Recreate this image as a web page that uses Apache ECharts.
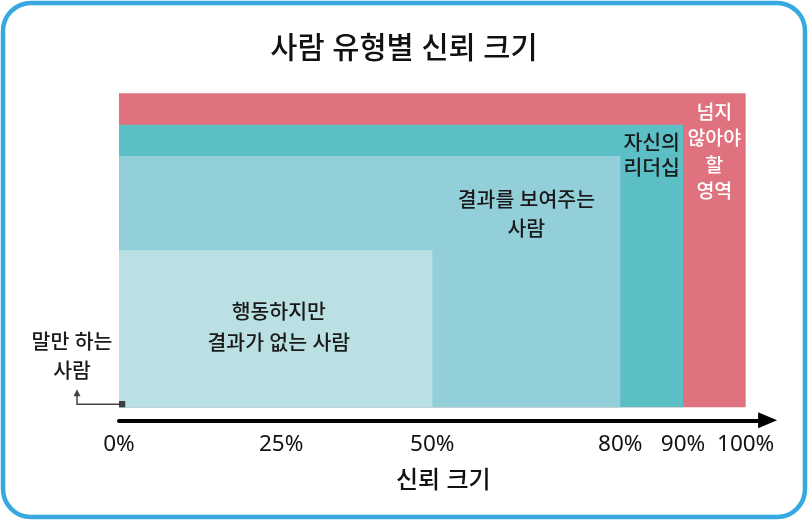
<!DOCTYPE html>
<html>
<head>
<meta charset="utf-8">
<script src="https://cdn.jsdelivr.net/npm/echarts@6/dist/echarts.min.js"></script>
<style>
  html, body { margin: 0; padding: 0; background: #fff; }
  #chart { width: 808px; height: 520px; }
</style>
</head>
<body>
<div id="chart"></div>
<script>
var chart = echarts.init(document.getElementById('chart'));

// bands, from the smallest to the largest
const bandNames = ['말만 하는 사람', '행동하지만 결과가 없는 사람', '결과를 보여주는 사람', '자신의 리더십', '넘지 않아야 할 영역'];
const bandLabels = ['말만 하는\n사람', '행동하지만\n결과가 없는 사람', '결과를 보여주는\n사람', '자신의\n리더십', '넘지\n않아야\n할\n영역'];
const trustX = [1, 50, 80, 90, 100];
const trustY = [2, 50, 80, 90, 100];
const tickValues = [0, 25, 50, 80, 90, 100];

const bandColors = ['#3d3d3d', '#bae0e3', '#92cfd8', '#5cbfc6', '#e0727f'];
const labelLayout = [
  { fontSize: 20.5, lineHeight: 29, color: '#1a1a1a' },
  { anchor: 'middle', dy: 0, fontSize: 20.5, lineHeight: 31, color: '#1a1a1a' },
  { anchor: 'top', dy: 59.5, fontSize: 20.5, lineHeight: 29, color: '#1a1a1a' },
  { anchor: 'top', dy: 31.5, fontSize: 20.5, lineHeight: 25, color: '#1a1a1a' },
  { anchor: 'top', dy: 59.5, fontSize: 19.5, lineHeight: 26.5, color: '#ffffff' }
];
const FONT = "'Noto Sans', 'Noto Sans CJK KR', sans-serif";

// largest first so the smaller ones sit on top
var data = [];
for (var i = trustX.length - 1; i >= 0; i--) {
  data.push({ name: bandNames[i], value: [trustX[i], trustY[i], i] });
}

function renderItem(params, api) {
  var idx = api.value(2);
  var p0 = api.coord([0, 0]);
  var p1 = api.coord([api.value(0), api.value(1)]);
  var rect = {
    x: p0[0], y: p1[1],
    width: p1[0] - p0[0], height: p0[1] - p1[1]
  };
  var lay = labelLayout[idx];
  var textStyle = {
    text: bandLabels[idx], fill: lay.color, fontSize: lay.fontSize, fontFamily: FONT,
    fontWeight: 500, align: 'center', verticalAlign: 'middle', lineHeight: lay.lineHeight
  };
  var children = [{
    type: 'rect',
    shape: rect,
    style: { fill: bandColors[idx] }
  }];

  if (idx === 0) {
    // little square with an arrow pointing to its label
    var midY = (p0[1] + p1[1]) / 2;
    var ax = p0[0] - 42;
    children.push({
      type: 'polyline',
      shape: { points: [[p0[0], midY], [ax, midY], [ax, midY - 9]] },
      style: { stroke: '#444', lineWidth: 1.5, fill: null }
    });
    children.push({
      type: 'polygon',
      shape: { points: [[ax, midY - 15], [ax - 3.5, midY - 8], [ax + 3.5, midY - 8]] },
      style: { fill: '#444' }
    });
    children.push({
      type: 'text',
      x: p0[0] - 47,
      y: midY - 47,
      style: textStyle
    });
  } else {
    var left = trustX[idx - 1];
    var bx = api.coord([(left + api.value(0)) / 2, 0])[0];
    var by = lay.anchor === 'middle' ? (p0[1] + p1[1]) / 2 : p1[1] + lay.dy;
    var bandLeft = api.coord([left, 0])[0];
    children.push({
      type: 'text',
      x: bx,
      y: by,
      style: textStyle,
      clipPath: {
        type: 'rect',
        shape: { x: bandLeft - bx, y: rect.y - by, width: p1[0] - bandLeft, height: rect.height }
      }
    });
  }
  return { type: 'group', children: children };
}

var option = {
  animation: false,
  title: {
    text: '사람 유형별 신뢰 크기',
    left: 'center',
    top: 30,
    textStyle: { fontSize: 29.5, fontWeight: 500, color: '#111', fontFamily: FONT }
  },
  graphic: [{
    type: 'rect',
    shape: { x: 3, y: 3, width: 802, height: 514, r: 28 },
    style: { fill: 'none', stroke: '#36a9e1', lineWidth: 4.5 },
    silent: true
  }],
  grid: { left: 119, right: 40.4, top: 93.3, bottom: 112.7 },
  xAxis: {
    type: 'value',
    min: 0,
    max: 103.5,
    interval: 5,
    offset: 13,
    name: '신뢰 크기',
    nameLocation: 'middle',
    nameGap: 49,
    nameTextStyle: { fontSize: 24, fontWeight: 500, color: '#111', fontFamily: FONT },
    axisLine: {
      show: true,
      onZero: false,
      symbol: ['none', 'triangle'],
      symbolSize: [16, 19],
      lineStyle: { color: '#000', width: 4 }
    },
    axisTick: { show: false },
    splitLine: { show: false },
    axisLabel: {
      margin: 13,
      fontSize: 22.5,
      color: '#111',
      fontFamily: FONT,
      showMaxLabel: false,
      rich: { shift: { fontSize: 22.5, fontFamily: FONT, color: '#111', padding: [0, 0, 0, 11] } },
      formatter: function (v) {
        if (tickValues.indexOf(v) < 0) return '';
        return v === 25 ? '{shift|' + v + '%}' : v + '%';
      }
    }
  },
  yAxis: { type: 'value', min: 0, max: 100, show: false },
  series: [{
    type: 'custom',
    renderItem: renderItem,
    encode: { x: 0, y: 1 },
    data: data,
    clip: false
  }]
};

chart.setOption(option);
</script>
</body>
</html>
